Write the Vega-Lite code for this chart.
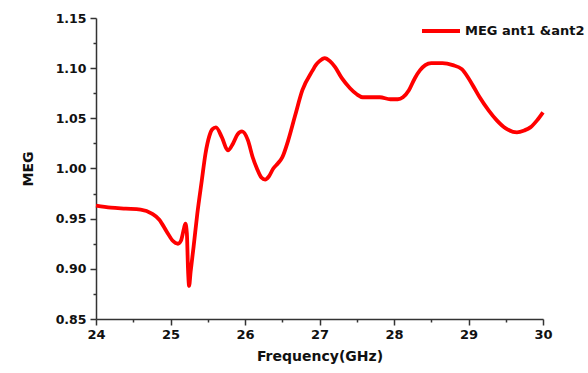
{
  "$schema": "https://vega.github.io/schema/vega-lite/v6.json",
  "width": 447,
  "height": 301,
  "autosize": {"type": "none"},
  "padding": {"left": 96, "top": 18, "right": 45, "bottom": 54},
  "background": "white",
  "config": {"view": {"stroke": null}},
  "data": {"values": [
    {"f": 24.0, "meg": 0.963, "s": "MEG ant1 &ant2"},
    {"f": 24.2, "meg": 0.961, "s": "MEG ant1 &ant2"},
    {"f": 24.4, "meg": 0.960, "s": "MEG ant1 &ant2"},
    {"f": 24.6, "meg": 0.959, "s": "MEG ant1 &ant2"},
    {"f": 24.75, "meg": 0.955, "s": "MEG ant1 &ant2"},
    {"f": 24.85, "meg": 0.949, "s": "MEG ant1 &ant2"},
    {"f": 24.95, "meg": 0.937, "s": "MEG ant1 &ant2"},
    {"f": 25.03, "meg": 0.928, "s": "MEG ant1 &ant2"},
    {"f": 25.1, "meg": 0.925, "s": "MEG ant1 &ant2"},
    {"f": 25.14, "meg": 0.928, "s": "MEG ant1 &ant2"},
    {"f": 25.18, "meg": 0.940, "s": "MEG ant1 &ant2"},
    {"f": 25.2, "meg": 0.945, "s": "MEG ant1 &ant2"},
    {"f": 25.22, "meg": 0.935, "s": "MEG ant1 &ant2"},
    {"f": 25.235, "meg": 0.900, "s": "MEG ant1 &ant2"},
    {"f": 25.25, "meg": 0.883, "s": "MEG ant1 &ant2"},
    {"f": 25.27, "meg": 0.897, "s": "MEG ant1 &ant2"},
    {"f": 25.31, "meg": 0.922, "s": "MEG ant1 &ant2"},
    {"f": 25.36, "meg": 0.955, "s": "MEG ant1 &ant2"},
    {"f": 25.42, "meg": 0.988, "s": "MEG ant1 &ant2"},
    {"f": 25.47, "meg": 1.015, "s": "MEG ant1 &ant2"},
    {"f": 25.52, "meg": 1.032, "s": "MEG ant1 &ant2"},
    {"f": 25.56, "meg": 1.039, "s": "MEG ant1 &ant2"},
    {"f": 25.61, "meg": 1.041, "s": "MEG ant1 &ant2"},
    {"f": 25.69, "meg": 1.031, "s": "MEG ant1 &ant2"},
    {"f": 25.77, "meg": 1.018, "s": "MEG ant1 &ant2"},
    {"f": 25.84, "meg": 1.025, "s": "MEG ant1 &ant2"},
    {"f": 25.9, "meg": 1.034, "s": "MEG ant1 &ant2"},
    {"f": 25.96, "meg": 1.037, "s": "MEG ant1 &ant2"},
    {"f": 26.04, "meg": 1.028, "s": "MEG ant1 &ant2"},
    {"f": 26.1, "meg": 1.012, "s": "MEG ant1 &ant2"},
    {"f": 26.16, "meg": 1.000, "s": "MEG ant1 &ant2"},
    {"f": 26.22, "meg": 0.991, "s": "MEG ant1 &ant2"},
    {"f": 26.27, "meg": 0.989, "s": "MEG ant1 &ant2"},
    {"f": 26.32, "meg": 0.992, "s": "MEG ant1 &ant2"},
    {"f": 26.38, "meg": 1.000, "s": "MEG ant1 &ant2"},
    {"f": 26.44, "meg": 1.005, "s": "MEG ant1 &ant2"},
    {"f": 26.5, "meg": 1.011, "s": "MEG ant1 &ant2"},
    {"f": 26.58, "meg": 1.028, "s": "MEG ant1 &ant2"},
    {"f": 26.67, "meg": 1.052, "s": "MEG ant1 &ant2"},
    {"f": 26.77, "meg": 1.078, "s": "MEG ant1 &ant2"},
    {"f": 26.91, "meg": 1.098, "s": "MEG ant1 &ant2"},
    {"f": 26.95, "meg": 1.103, "s": "MEG ant1 &ant2"},
    {"f": 27.0, "meg": 1.107, "s": "MEG ant1 &ant2"},
    {"f": 27.07, "meg": 1.110, "s": "MEG ant1 &ant2"},
    {"f": 27.14, "meg": 1.107, "s": "MEG ant1 &ant2"},
    {"f": 27.21, "meg": 1.101, "s": "MEG ant1 &ant2"},
    {"f": 27.3, "meg": 1.090, "s": "MEG ant1 &ant2"},
    {"f": 27.41, "meg": 1.080, "s": "MEG ant1 &ant2"},
    {"f": 27.5, "meg": 1.074, "s": "MEG ant1 &ant2"},
    {"f": 27.58, "meg": 1.071, "s": "MEG ant1 &ant2"},
    {"f": 27.7, "meg": 1.071, "s": "MEG ant1 &ant2"},
    {"f": 27.81, "meg": 1.071, "s": "MEG ant1 &ant2"},
    {"f": 27.95, "meg": 1.069, "s": "MEG ant1 &ant2"},
    {"f": 28.05, "meg": 1.069, "s": "MEG ant1 &ant2"},
    {"f": 28.12, "meg": 1.071, "s": "MEG ant1 &ant2"},
    {"f": 28.2, "meg": 1.078, "s": "MEG ant1 &ant2"},
    {"f": 28.28, "meg": 1.090, "s": "MEG ant1 &ant2"},
    {"f": 28.35, "meg": 1.098, "s": "MEG ant1 &ant2"},
    {"f": 28.42, "meg": 1.103, "s": "MEG ant1 &ant2"},
    {"f": 28.5, "meg": 1.105, "s": "MEG ant1 &ant2"},
    {"f": 28.65, "meg": 1.105, "s": "MEG ant1 &ant2"},
    {"f": 28.79, "meg": 1.103, "s": "MEG ant1 &ant2"},
    {"f": 28.91, "meg": 1.099, "s": "MEG ant1 &ant2"},
    {"f": 29.0, "meg": 1.090, "s": "MEG ant1 &ant2"},
    {"f": 29.08, "meg": 1.080, "s": "MEG ant1 &ant2"},
    {"f": 29.15, "meg": 1.071, "s": "MEG ant1 &ant2"},
    {"f": 29.27, "meg": 1.058, "s": "MEG ant1 &ant2"},
    {"f": 29.38, "meg": 1.048, "s": "MEG ant1 &ant2"},
    {"f": 29.5, "meg": 1.040, "s": "MEG ant1 &ant2"},
    {"f": 29.65, "meg": 1.036, "s": "MEG ant1 &ant2"},
    {"f": 29.75, "meg": 1.038, "s": "MEG ant1 &ant2"},
    {"f": 29.83, "meg": 1.041, "s": "MEG ant1 &ant2"},
    {"f": 29.92, "meg": 1.048, "s": "MEG ant1 &ant2"},
    {"f": 30.0, "meg": 1.056, "s": "MEG ant1 &ant2"}
  ]},
  "mark": {"type": "line", "strokeWidth": 3.8, "interpolate": "monotone"},
  "encoding": {
    "x": {
      "field": "f", "type": "quantitative",
      "scale": {"domain": [24, 30], "nice": false, "zero": false},
      "axis": {
        "title": "Frequency(GHz)",
        "values": [24, 24.5, 25, 25.5, 26, 26.5, 27, 27.5, 28, 28.5, 29, 29.5, 30],
        "labelExpr": "datum.value % 1 === 0 ? format(datum.value, 'd') : ''",
        "grid": false,
        "domainColor": "#333", "domainWidth": 1.5,
        "tickColor": "#333", "tickWidth": 1.5,
        "tickSize": {"condition": {"test": "datum.value % 1 === 0", "value": 6}, "value": 3},
        "labelFont": "DejaVu Sans", "labelFontWeight": "bold", "labelFontSize": 13, "labelColor": "#111",
        "labelPadding": 3, "labelFlush": false, "labelOverlap": false,
        "titleFont": "DejaVu Sans", "titleFontWeight": "bold", "titleFontSize": 14, "titleColor": "#111",
        "titlePadding": 8
      }
    },
    "y": {
      "field": "meg", "type": "quantitative",
      "scale": {"domain": [0.85, 1.15], "nice": false, "zero": false},
      "axis": {
        "title": "MEG",
        "values": [0.85, 0.875, 0.9, 0.925, 0.95, 0.975, 1.0, 1.025, 1.05, 1.075, 1.1, 1.125, 1.15],
        "labelExpr": "abs(datum.value * 20 - round(datum.value * 20)) < 0.000001 ? format(datum.value, '.2f') : ''",
        "grid": false,
        "domainColor": "#333", "domainWidth": 1.5,
        "tickColor": "#333", "tickWidth": 1.5,
        "tickSize": {"condition": {"test": "abs(datum.value * 20 - round(datum.value * 20)) < 0.000001", "value": 6}, "value": 3},
        "labelFont": "DejaVu Sans", "labelFontWeight": "bold", "labelFontSize": 12.5, "labelColor": "#111",
        "labelPadding": 4, "labelFlush": false, "labelOverlap": false,
        "titleFont": "DejaVu Sans", "titleFontWeight": "bold", "titleFontSize": 14, "titleColor": "#111",
        "titlePadding": 20
      }
    },
    "color": {
      "field": "s", "type": "nominal",
      "scale": {"range": ["#ff0000"]},
      "legend": {
        "title": null,
        "orient": "none",
        "legendX": 324,
        "legendY": -8,
        "symbolType": "stroke",
        "symbolSize": 1444,
        "symbolStrokeWidth": 3.8,
        "labelFont": "DejaVu Sans", "labelFontWeight": "bold", "labelFontSize": 13, "labelColor": "#111",
        "labelOffset": 3,
        "labelLimit": 400,
        "padding": 0
      }
    }
  }
}
